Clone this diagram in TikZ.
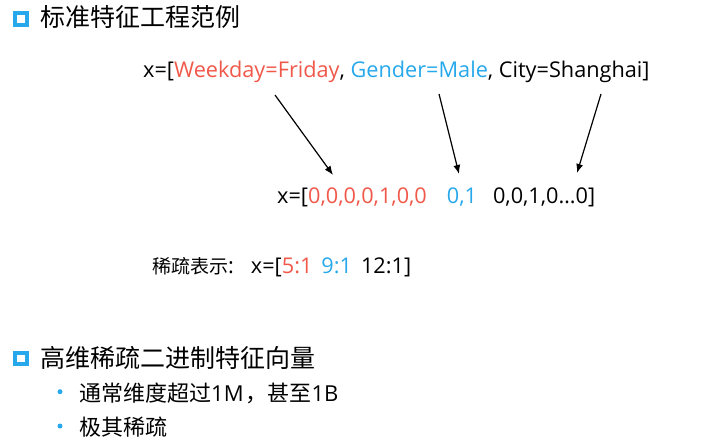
\documentclass[tikz,border=0pt]{standalone}
\usepackage{fontspec}
\setmainfont{Open Sans}
\newfontfamily\cjk{Noto Sans CJK SC}
\usetikzlibrary{arrows.meta}

\definecolor{featred}{RGB}{240,88,74}
\definecolor{featblue}{RGB}{38,168,235}

\tikzset{
  heading/.style={anchor=west,inner sep=0pt,font=\cjk\fontsize{25}{30}\selectfont},
  subitem/.style={anchor=west,inner sep=0pt,font=\fontsize{22}{26}\selectfont},
  vecline/.style={anchor=base west,inner sep=0pt,font=\fontsize{21.7}{26}\selectfont},
  boxbullet/.style={draw=featblue,line width=4pt,fill=white},
  dotbullet/.style={fill=featblue},
  maparrow/.style={-{Latex[length=9pt,width=7pt]},line width=1.2pt}
}

\begin{document}
\begin{tikzpicture}[x=1pt,y=-1pt]
\useasboundingbox (0,0) rectangle (714,447);

% first block
\draw[boxbullet] (15.3,13.3) rectangle (27,25);
\node[heading] (title1) at (40,17.5) {标准特征工程范例};

\node[vecline] (raw) at (143,77) {x=[\textcolor{featred}{Weekday=Friday}, \textcolor{featblue}{Gender=Male}, City=Shanghai]};
\node[vecline] (onehot) at (277,203) {x=[\textcolor{featred}{0,0,0,0,1,0,0}\hspace{20pt}\textcolor{featblue}{0,1}\hspace{16pt}0,0,1,0\ldots0]};
\node[vecline] (sparse) at (152,273) {{\cjk\fontsize{19}{24}\selectfont 稀疏表示}:\hspace{17pt}x=[\textcolor{featred}{5:1}\hspace{9pt}\textcolor{featblue}{9:1}\hspace{9pt}12:1]};

\coordinate (day-src) at (275,95);
\coordinate (day-dst) at (333,175);
\coordinate (sex-src) at (439,94);
\coordinate (sex-dst) at (459,174);
\coordinate (city-src) at (601,94);
\coordinate (city-dst) at (577,173);

\draw[maparrow] (day-src) -- (day-dst);
\draw[maparrow] (sex-src) -- (sex-dst);
\draw[maparrow] (city-src) -- (city-dst);

% second block
\draw[boxbullet] (15.3,353) rectangle (27,364);
\node[heading] (title2) at (40,357.5) {高维稀疏二进制特征向量};

\fill[dotbullet] (60,391.7) circle (2.5);
\node[subitem] (item1) at (79,393) {{\cjk 通常维度超过}1M\hspace{2pt}{\cjk ，甚至}1B};
\fill[dotbullet] (60,426) circle (2.5);
\node[subitem] (item2) at (79,427) {\cjk 极其稀疏};
\end{tikzpicture}
\end{document}
